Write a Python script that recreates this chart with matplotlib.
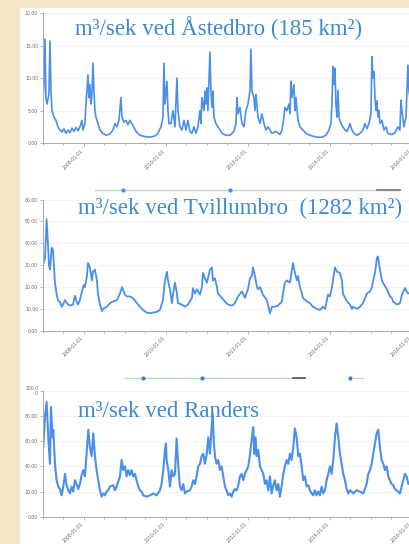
import numpy as np
import matplotlib.pyplot as plt
from matplotlib.patches import Rectangle
from matplotlib.lines import Line2D
from matplotlib.ticker import MultipleLocator, FixedLocator

# years since 2007-01-01 and discharge (m3/s)
t_aastedbro = [0.000, 0.024, 0.049, 0.073, 0.098, 0.146, 0.171, 0.195, 0.220, 0.268, 0.317, 0.366, 0.415, 0.463,
               0.512, 0.561, 0.610, 0.659, 0.707, 0.756, 0.805, 0.854, 0.902, 0.951, 0.976, 1.024, 1.049, 1.073,
               1.098, 1.122, 1.146, 1.171, 1.195, 1.220, 1.244, 1.268, 1.293, 1.341, 1.390, 1.463, 1.537, 1.634,
               1.707, 1.756, 1.805, 1.854, 1.902, 1.927, 1.976, 2.024, 2.073, 2.122, 2.171, 2.220, 2.268, 2.366,
               2.488, 2.610, 2.732, 2.805, 2.878, 2.927, 2.951, 2.976, 3.024, 3.049, 3.073, 3.122, 3.171, 3.220,
               3.268, 3.293, 3.341, 3.390, 3.439, 3.488, 3.537, 3.585, 3.634, 3.683, 3.732, 3.780, 3.829, 3.854,
               3.878, 3.927, 3.951, 3.976, 4.000, 4.024, 4.073, 4.098, 4.122, 4.146, 4.171, 4.220, 4.268, 4.317,
               4.366, 4.463, 4.561, 4.659, 4.707, 4.732, 4.756, 4.805, 4.854, 4.902, 4.951, 5.000, 5.049, 5.073,
               5.098, 5.146, 5.171, 5.195, 5.244, 5.293, 5.341, 5.390, 5.439, 5.488, 5.537, 5.585, 5.683, 5.780,
               5.829, 5.878, 5.902, 5.951, 6.000, 6.024, 6.049, 6.073, 6.122, 6.146, 6.171, 6.220, 6.268, 6.341,
               6.415, 6.512, 6.610, 6.707, 6.805, 6.902, 6.976, 7.024, 7.049, 7.073, 7.098, 7.122, 7.146, 7.171,
               7.195, 7.220, 7.268, 7.317, 7.366, 7.415, 7.463, 7.488, 7.537, 7.585, 7.659, 7.732, 7.805, 7.854,
               7.902, 7.951, 8.000, 8.024, 8.049, 8.073, 8.098, 8.122, 8.146, 8.171, 8.195, 8.220, 8.268, 8.317,
               8.366, 8.415, 8.512, 8.585, 8.659, 8.707, 8.732, 8.756, 8.805, 8.854, 8.902, 8.927, 9.000]
q_aastedbro = [6.5, 9, 16, 7, 6, 7.5, 15.7, 8, 5, 4, 3.5, 2.5, 2, 1.7,
               2.2, 1.5, 2, 1.6, 2.3, 1.8, 2.4, 1.9, 2.5, 3.5, 2, 3, 6, 8,
               10.5, 7, 9, 6, 7.5, 12.3, 8, 5, 4, 3, 2, 1.5, 1.2, 1.4,
               2, 3, 2.5, 3.5, 7, 4, 3.2, 3.5, 2.8, 3.5, 3, 2.4, 1.8, 1.2,
               1.0, 0.9, 1.1, 1.5, 2.5, 4, 12.3, 6, 9.5, 5, 3, 3, 5, 2.5,
               10, 5, 2.5, 2, 3.5, 2, 3.5, 1.8, 1.5, 2.5, 1.5, 2.5, 5, 3,
               7, 5, 8, 6, 8.5, 5, 14, 8, 5.5, 8, 4, 3, 2.5, 2,
               1.5, 1.2, 1.2, 1.8, 3, 7, 4.5, 5.5, 3, 2.5, 5, 6, 8, 14.4,
               8, 7, 5, 7.5, 4, 3, 4.5, 3, 2, 2.5, 2, 1.5, 1.8, 1.3,
               2, 4, 5.5, 5, 6, 4.5, 9.5, 7, 9, 5, 7, 3.5, 2.5, 2,
               1.5, 1.2, 1.0, 0.9, 0.9, 1.2, 2, 3, 6, 11.8, 9, 11.5, 6, 4,
               8.1, 4, 3, 2.5, 2, 1.8, 2.5, 3, 2, 1.5, 1.2, 1.5, 2, 3,
               2.2, 3, 4.5, 13.3, 10, 11, 7, 5, 6.5, 4, 5, 3, 3.5, 2,
               2.5, 1.5, 1.3, 1.6, 2.5, 2, 6.6, 5, 2.5, 4, 12, 8, 5]

t_tvillum = [0.000, 0.049, 0.090, 0.122, 0.146, 0.171, 0.212, 0.244, 0.268, 0.293, 0.341, 0.366, 0.415, 0.463,
             0.488, 0.537, 0.585, 0.659, 0.732, 0.780, 0.829, 0.854, 0.902, 0.951, 1.000, 1.024, 1.073, 1.098,
             1.146, 1.195, 1.220, 1.268, 1.317, 1.341, 1.390, 1.439, 1.463, 1.561, 1.634, 1.707, 1.805, 1.878,
             1.927, 1.951, 2.000, 2.049, 2.122, 2.195, 2.293, 2.366, 2.439, 2.537, 2.610, 2.683, 2.780, 2.854,
             2.927, 2.976, 3.024, 3.049, 3.098, 3.146, 3.171, 3.220, 3.268, 3.293, 3.390, 3.463, 3.537, 3.634,
             3.659, 3.707, 3.756, 3.829, 3.878, 3.902, 3.951, 4.000, 4.073, 4.122, 4.146, 4.195, 4.244, 4.268,
             4.366, 4.439, 4.512, 4.610, 4.683, 4.756, 4.854, 4.927, 5.000, 5.049, 5.098, 5.122, 5.171, 5.220,
             5.244, 5.293, 5.366, 5.463, 5.488, 5.537, 5.585, 5.659, 5.732, 5.829, 5.854, 5.902, 5.951, 6.024,
             6.098, 6.146, 6.195, 6.220, 6.268, 6.317, 6.341, 6.439, 6.512, 6.585, 6.683, 6.756, 6.829, 6.878,
             6.927, 6.951, 7.000, 7.049, 7.073, 7.122, 7.171, 7.244, 7.293, 7.317, 7.415, 7.488, 7.537, 7.561,
             7.659, 7.732, 7.805, 7.902, 7.976, 8.024, 8.049, 8.098, 8.146, 8.171, 8.220, 8.268, 8.293, 8.390,
             8.463, 8.512, 8.537, 8.634, 8.707, 8.756, 8.829, 8.902, 9.000]
q_tvillum = [30, 33, 51, 40, 30, 28, 38, 37, 30, 22, 16, 14, 13, 11,
             12, 14, 12.5, 11.5, 12, 16, 13, 12, 14, 18, 21, 20, 25, 31,
             29, 23, 27, 28, 23, 17, 12, 9, 10, 11, 12.6, 13.4, 14, 17,
             20, 19, 16.5, 15.7, 15.7, 15, 12.6, 11, 9.5, 8.3, 8, 8.3, 8.7, 9.5,
             14, 23, 27, 23, 19, 12.6, 16.5, 22, 17, 12.6, 12, 11, 12, 15,
             19.5, 17, 19, 16.5, 20, 26.5, 24, 22, 28, 29, 23, 24, 20, 17,
             15, 13.4, 12, 11.5, 12.6, 15.7, 18, 15, 19, 24, 25, 29, 25, 20,
             19, 20, 16.5, 14, 12, 8, 11, 11, 11.5, 13.4, 17, 22, 23, 22,
             31, 26.5, 23, 25, 20, 17, 15, 13.4, 12.6, 11, 10, 9.5, 11, 10,
             14, 16.5, 15.7, 20, 23, 29, 27, 26.5, 23, 17, 13.4, 12, 10, 11,
             10, 11, 12.6, 17, 18, 20, 22.6, 26.5, 33.4, 34, 28, 23, 22, 19,
             15.7, 15, 13.4, 12, 12.6, 16.5, 19.5, 17, 18]

t_randers = [0.008, 0.049, 0.089, 0.130, 0.171, 0.195, 0.236, 0.252, 0.293, 0.333, 0.374, 0.415, 0.455, 0.496,
             0.537, 0.577, 0.618, 0.659, 0.699, 0.740, 0.780, 0.821, 0.862, 0.902, 0.943, 0.984, 1.024, 1.065,
             1.106, 1.146, 1.187, 1.228, 1.268, 1.309, 1.350, 1.390, 1.431, 1.472, 1.512, 1.553, 1.593, 1.634,
             1.715, 1.756, 1.797, 1.878, 1.919, 1.959, 2.000, 2.041, 2.081, 2.122, 2.163, 2.203, 2.244, 2.285,
             2.325, 2.366, 2.407, 2.447, 2.528, 2.610, 2.691, 2.772, 2.854, 2.894, 2.935, 2.976, 3.000, 3.016,
             3.057, 3.098, 3.138, 3.179, 3.220, 3.260, 3.301, 3.341, 3.382, 3.423, 3.463, 3.504, 3.585, 3.626,
             3.667, 3.707, 3.748, 3.789, 3.829, 3.870, 3.911, 3.951, 3.992, 4.033, 4.073, 4.114, 4.138, 4.171,
             4.195, 4.236, 4.276, 4.317, 4.358, 4.398, 4.439, 4.480, 4.520, 4.561, 4.602, 4.642, 4.683, 4.724,
             4.764, 4.805, 4.846, 4.886, 4.927, 4.967, 5.008, 5.049, 5.089, 5.130, 5.154, 5.187, 5.211, 5.252,
             5.293, 5.333, 5.374, 5.415, 5.455, 5.496, 5.537, 5.577, 5.618, 5.659, 5.699, 5.740, 5.780, 5.821,
             5.862, 5.902, 5.943, 5.984, 6.024, 6.065, 6.106, 6.146, 6.187, 6.228, 6.268, 6.309, 6.350, 6.390,
             6.431, 6.472, 6.512, 6.553, 6.593, 6.634, 6.675, 6.715, 6.756, 6.797, 6.837, 6.878, 6.919, 6.959,
             7.000, 7.041, 7.081, 7.122, 7.163, 7.203, 7.244, 7.285, 7.325, 7.366, 7.407, 7.447, 7.488, 7.528,
             7.569, 7.650, 7.732, 7.813, 7.894, 7.935, 7.976, 8.016, 8.057, 8.098, 8.138, 8.179, 8.220, 8.260,
             8.301, 8.341, 8.382, 8.423, 8.463, 8.504, 8.545, 8.585, 8.626, 8.707, 8.748, 8.789, 8.829, 8.870,
             8.911, 9.000]
q_randers = [55, 79, 91, 63, 42, 87, 63, 69, 42, 29, 24, 22, 17, 24,
             34, 25, 21, 18.5, 24, 20, 29, 26, 22, 26, 33, 37, 32, 50,
             69, 55, 48, 66, 48, 37, 29, 21, 16, 18.5, 17, 20, 21, 24,
             25, 21, 24, 32, 45, 37, 40, 32, 37, 33, 37, 32, 34, 29,
             24, 21, 20, 17, 16, 17, 18.5, 17, 21, 26, 37, 53, 58, 45,
             37, 24, 37, 32, 34, 62, 40, 24, 21, 26, 18.5, 20, 21, 24,
             29, 26, 32, 40, 42, 48, 50, 42, 49, 63, 50, 70, 82, 58,
             48, 42, 45, 37, 40, 32, 24, 21, 17, 18.5, 16, 20, 22, 21,
             25, 32, 34, 29, 34, 37, 40, 49, 61, 71, 50, 63, 48, 53,
             40, 37, 34, 26, 29, 21, 32, 18.5, 25, 29, 21, 26, 16, 24,
             34, 40, 45, 42, 50, 45, 55, 70, 63, 48, 50, 40, 29, 32,
             24, 25, 21, 18.5, 17, 21, 17, 20, 17, 24, 18.5, 21, 29, 34,
             40, 34, 45, 63, 74, 63, 50, 42, 34, 29, 22, 18.5, 21, 20,
             18.5, 21, 20, 18.5, 26, 34, 37, 42, 50, 58, 66, 69, 55, 45,
             42, 37, 40, 32, 29, 26, 25, 22, 21, 18.5, 24, 29, 34, 32,
             26, 30]

start_year = 2007
titles = ['m³/sek ved Åstedbro (185 km²)', 'm³/sek ved Tvillumbro  (1282 km²)', 'm³/sek ved Randers']
y_ticks = [[0, 5, 10, 15, 20], [0, 10, 20, 30, 40, 50, 60], [0, 20, 40, 60, 80, 100]]
y_labels = [['0.00', '5.00', '10.00', '15.00', '20.00'],
            ['0.00', '10.00', '20.00', '30.00', '40.00', '50.00', '60.00'],
            ['0.00', '20.00', '40.00', '60.00', '80.00', '100.0\n0']]
x_major = [2008, 2010, 2012, 2014, 2016]
x_labels = ['%d-01-01' % y for y in x_major]

series = [(t_aastedbro, q_aastedbro), (t_tvillum, q_tvillum), (t_randers, q_randers)]
line_widths = [1.2, 1.3, 1.5]

fig = plt.figure(figsize=(4.09, 5.44), dpi=100)
fig.patch.set_facecolor('#f7e7c9')
fig.add_artist(Rectangle((0.049, 0), 0.96, 1 - 8 / 544, transform=fig.transFigure,
                         facecolor='white', edgecolor='none', zorder=-1))

# axes boxes (left, bottom, width, height) - they run off the right edge
boxes = [[0.105, 0.737, 1.0, 0.239],
         [0.105, 0.392, 1.0, 0.241],
         [0.105, 0.050, 1.0, 0.232]]
title_pos = [(0.183, 0.949), (0.191, 0.616), (0.191, 0.244)]

line_col = '#4a8feb'
for i in range(3):
    ax = fig.add_axes(boxes[i])
    ax.set_facecolor('none')
    t, q = series[i]
    ax.plot(start_year + np.array(t), q, color=line_col, lw=line_widths[i], solid_joinstyle='round')
    ax.set_xlim(start_year, start_year + 409 / 41)
    ax.set_ylim(y_ticks[i][0], y_ticks[i][-1])
    ax.yaxis.set_major_locator(FixedLocator(y_ticks[i]))
    ax.set_yticklabels(y_labels[i], fontsize=3.3, color='#666666', linespacing=0.9)
    ax.xaxis.set_major_locator(FixedLocator(x_major))
    ax.xaxis.set_minor_locator(MultipleLocator(0.5))
    ax.set_xticklabels(x_labels, rotation=45, ha='right', fontsize=3.3, color='#666666')
    ax.tick_params(axis='both', which='both', length=2, width=0.5, color='#999999', pad=1.5)
    ax.tick_params(axis='x', which='minor', length=1.5)
    ax.grid(axis='y', color='#eeeeee', lw=0.5)
    for s in ['top', 'right']:
        ax.spines[s].set_visible(False)
    for s in ['left', 'bottom']:
        ax.spines[s].set_color('#aaaaaa')
        ax.spines[s].set_linewidth(0.7)
    fig.text(title_pos[i][0], title_pos[i][1], titles[i], family='Liberation Serif',
             fontsize=16.5, color='#3d8bcf', va='center', ha='left')

# thin selector strips between the panels
fig.add_artist(Line2D([0.232, 0.978], [0.651, 0.651], transform=fig.transFigure, color='#bcd9c0', lw=1))
fig.add_artist(Line2D([0.922, 0.978], [0.651, 0.651], transform=fig.transFigure, color='#777777', lw=1.2))
fig.add_artist(Line2D([0.301, 0.562], [0.651, 0.651], transform=fig.transFigure, ls='none',
                      marker='o', ms=2, color='#4a90d9'))
fig.add_artist(Line2D([0.306, 0.746], [0.305, 0.305], transform=fig.transFigure, color='#bcd9c0', lw=1))
fig.add_artist(Line2D([0.716, 0.746], [0.305, 0.305], transform=fig.transFigure, color='#555555', lw=1.2))
fig.add_artist(Line2D([0.350, 0.494, 0.856], [0.305, 0.305, 0.305], transform=fig.transFigure, ls='none',
                      marker='o', ms=2, color='#3a7fd0'))
fig.add_artist(Line2D([0.861, 0.888], [0.305, 0.305], transform=fig.transFigure, color='#cccccc', lw=0.8))

fig.savefig('out.png', dpi=100, facecolor=fig.get_facecolor())
